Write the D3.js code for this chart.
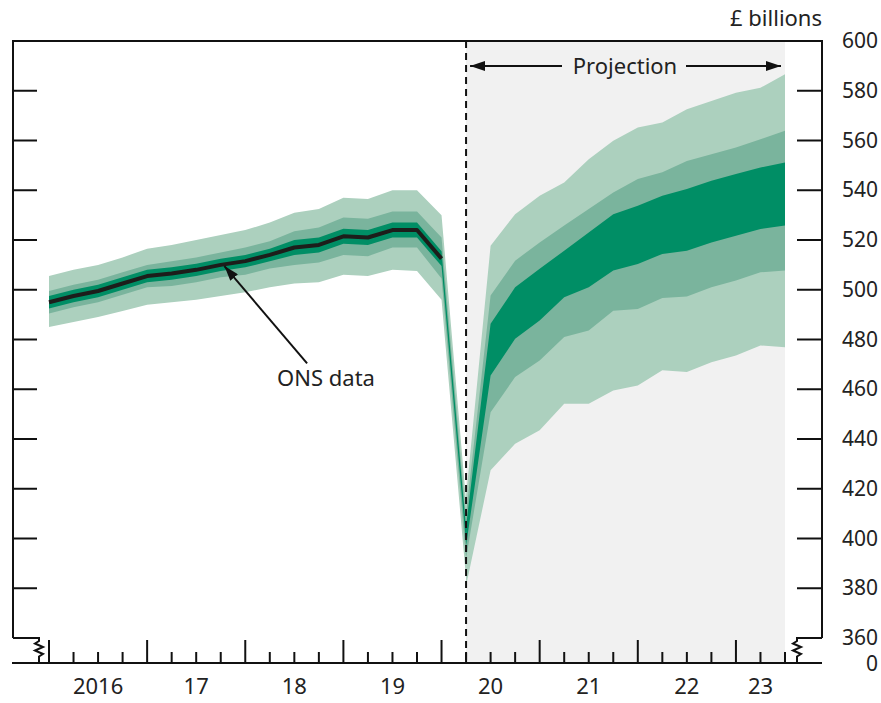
<!DOCTYPE html>
<html>
<head>
<meta charset="utf-8">
<title>GDP projection</title>
<style>
  body { margin: 0; background: #fff; font-family: "Noto Sans", sans-serif; }
  text { fill: #222; font-size: 22px; }
  .ylab { font-size: 21px; }
</style>
</head>
<body>
<div id="chart"></div>
<script src="https://d3js.org/d3.v7.min.js"></script>
<script>
// ---- data (£ billions) ----
// backcast fan, 2016 Q1 .. 2020 Q2
var histQuarters = ["2016 Q1","2016 Q2","2016 Q3","2016 Q4","2017 Q1","2017 Q2","2017 Q3","2017 Q4",
  "2018 Q1","2018 Q2","2018 Q3","2018 Q4","2019 Q1","2019 Q2","2019 Q3","2019 Q4","2020 Q1","2020 Q2"];
var histLightUpper = [505.5,508,510,513,516.5,518,520,522,524,527,531,532.5,537,536.5,540,540,530,415];
var histMidUpper   = [499.5,502,504,507,510,511.5,513,515,517,519.5,523.5,525,529,528.5,531.5,531.5,521,408];
var histDarkUpper  = [497.5,500,502,505,508,509,510.5,512.5,514,516.5,520,521,524.5,524,527,527,515.5,404];
var histDarkLower  = [492.5,495,497,500,503,504,505.5,507.5,509,511.5,514,515,518.5,518,521,521,509.5,398];
var histMidLower   = [490.5,493,495,498,501,501.5,503,505,506,508.5,510,511,514,513.5,517,517,504.5,392];
var histLightLower = [485,487,489,491.5,494,495,496,497.5,499,501,502.5,503,506,505.5,508,507.5,496,384];

// ONS data line, 2016 Q1 .. 2020 Q1
var onsData = [495,497.5,499.5,502.5,505.5,506.5,508,510,511.5,514,517,518,521.5,521,524,524,512.5];

// projection fan, 2020 Q2 .. 2023 Q3
var projQuarters = ["2020 Q2","2020 Q3","2020 Q4","2021 Q1","2021 Q2","2021 Q3","2021 Q4",
  "2022 Q1","2022 Q2","2022 Q3","2022 Q4","2023 Q1","2023 Q2","2023 Q3"];
var projLightUpper = [417,517.7,530.4,537.8,543.1,552.5,559.9,565.2,567.2,572.6,575.9,579.2,581.2,586.6];
var projMidUpper   = [410,497.7,511.7,519,525.8,532.5,539.1,544.5,547.2,551.8,554.5,557.2,560.5,563.9];
var projDarkUpper  = [405,486.3,501,508.4,515.7,523,530.4,533.8,537.8,540.5,543.8,546.5,549.1,551.2];
var projDarkLower  = [397,465.5,480.3,487.6,497,501,507.7,510.4,514.4,515.7,519,521.7,524.4,525.8];
var projMidLower   = [392,450.8,464.9,471.6,481,483.6,491.6,492.3,496.7,497.3,501,503.7,507,507.7];
var projLightLower = [381,427.4,438.1,443.5,454.2,454.2,459.5,461.5,467.6,466.9,470.9,473.6,477.6,476.9];

var yearLabels = ["2016","17","18","19","20","21","22","23"];
var yTicks = [380,400,420,440,460,480,500,520,540,560,580];
var yLabels = [360,380,400,420,440,460,480,500,520,540,560,580,600];

var colors = { light: "#acd0be", mid: "#7ab49d", dark: "#008e65", shade: "#f1f1f1" };

// ---- layout ----
var W = 881, H = 703;
var plotL = 13, plotR = 822, plotT = 41, plotB = 663, breakY = 638;

var svg = d3.select("#chart").append("svg")
  .attr("width", W).attr("height", H);

function qIndex(s) {
  return (+s.slice(0, 4) - 2016) * 4 + (+s.slice(-1) - 1);
}
var lastQ = qIndex(projQuarters[projQuarters.length - 1]);

var x = d3.scaleLinear().domain([0, lastQ]).range([49, 785]);
var y = d3.scaleLinear().domain([360, 600]).range([breakY, plotT]);

// projection shading
var projStart = x(qIndex(projQuarters[0]));
svg.append("rect")
  .attr("x", projStart).attr("y", plotT)
  .attr("width", x(lastQ) - projStart).attr("height", plotB - plotT)
  .attr("fill", colors.shade);

function fan(quarters, bands) {
  var g = svg.append("g");
  bands.forEach(function (b) {
    var area = d3.area()
      .x(function (d, i) { return x(qIndex(quarters[i])); })
      .y0(function (d, i) { return y(b.lower[i]); })
      .y1(function (d, i) { return y(b.upper[i]); });
    g.append("path")
      .attr("d", area(quarters))
      .attr("fill", b.color);
  });
}

fan(histQuarters, [
  { upper: histLightUpper, lower: histLightLower, color: colors.light },
  { upper: histMidUpper, lower: histMidLower, color: colors.mid },
  { upper: histDarkUpper, lower: histDarkLower, color: colors.dark }
]);
fan(projQuarters, [
  { upper: projLightUpper, lower: projLightLower, color: colors.light },
  { upper: projMidUpper, lower: projMidLower, color: colors.mid },
  { upper: projDarkUpper, lower: projDarkLower, color: colors.dark }
]);

// ONS line
var line = d3.line()
  .x(function (d, i) { return x(qIndex(histQuarters[i])); })
  .y(function (d) { return y(d); });
svg.append("path")
  .attr("d", line(onsData))
  .attr("fill", "none")
  .attr("stroke", "#1d1d1b")
  .attr("stroke-width", 4)
  .attr("stroke-linejoin", "round");

// dashed divider
svg.append("line")
  .attr("x1", projStart).attr("x2", projStart)
  .attr("y1", plotT).attr("y2", plotB)
  .attr("stroke", "#111").attr("stroke-width", 2)
  .attr("stroke-dasharray", "7,5");

// arrow marker
var defs = svg.append("defs");
defs.append("marker")
  .attr("id", "head")
  .attr("viewBox", "0 0 15 10")
  .attr("refX", 15).attr("refY", 5)
  .attr("markerWidth", 15).attr("markerHeight", 10)
  .attr("markerUnits", "userSpaceOnUse")
  .attr("orient", "auto")
  .append("path").attr("d", "M0,0L15,5L0,10Z").attr("fill", "#111");

// frame
var axis = svg.append("g")
  .attr("fill", "none").attr("stroke", "#111").attr("stroke-width", 2);
axis.append("path")
  .attr("d", "M" + plotL + "," + breakY + "V" + plotT + "H" + plotR + "V" + breakY);
axis.append("path")
  .attr("d", "M" + (plotL - 1) + "," + plotB + "H" + plotR);
// axis breaks
function zig() {
  return "V" + (breakY + 3) + "l-4,2.5l8,3.5l-8,3.5l8,3.5l-4,2.5V" + plotB;
}
axis.append("path").attr("d", "M" + plotL + "," + breakY + "H39" + zig());
axis.append("path").attr("d", "M" + plotR + "," + breakY + "H797" + zig());

// y ticks, both sides pointing in
yTicks.forEach(function (v) {
  axis.append("line").attr("x1", plotL).attr("x2", plotL + 24)
    .attr("y1", y(v)).attr("y2", y(v));
  axis.append("line").attr("x1", plotR).attr("x2", plotR - 25)
    .attr("y1", y(v)).attr("y2", y(v));
});

// x ticks, quarterly, longer at the start of each year
d3.range(0, lastQ + 1).forEach(function (q) {
  axis.append("line")
    .attr("x1", x(q)).attr("x2", x(q))
    .attr("y1", plotB).attr("y2", q % 4 === 0 ? plotB - 23 : plotB - 11);
});

// y labels
svg.append("g").selectAll("text")
  .data(yLabels)
  .enter().append("text")
  .attr("class", "ylab")
  .attr("x", 878).attr("y", function (d) { return y(d); })
  .attr("dy", "0.34em")
  .attr("text-anchor", "end")
  .text(function (d) { return d; });
svg.append("text")
  .attr("class", "ylab")
  .attr("x", 878).attr("y", plotB + 1).attr("dy", "0.34em")
  .attr("text-anchor", "end").text("0");

svg.append("text")
  .attr("x", plotR).attr("y", 26)
  .attr("text-anchor", "end").text("£ billions");

// year labels centred on the visible ticks of each year
yearLabels.forEach(function (lab, k) {
  var q0 = k * 4, q1 = Math.min(k * 4 + 4, lastQ);
  svg.append("text")
    .attr("x", x((q0 + q1) / 2)).attr("y", 694)
    .attr("text-anchor", "middle").text(lab);
});

// Projection label with arrows
var pMid = 625, pY = 66;
svg.append("text")
  .attr("x", pMid).attr("y", pY).attr("dy", "0.36em")
  .attr("text-anchor", "middle").text("Projection");
svg.append("line")
  .attr("x1", pMid - 63).attr("x2", projStart + 4)
  .attr("y1", pY).attr("y2", pY)
  .attr("stroke", "#111").attr("stroke-width", 2)
  .attr("marker-end", "url(#head)");
svg.append("line")
  .attr("x1", pMid + 61).attr("x2", x(lastQ) - 4)
  .attr("y1", pY).attr("y2", pY)
  .attr("stroke", "#111").attr("stroke-width", 2)
  .attr("marker-end", "url(#head)");

// ONS data annotation
svg.append("line")
  .attr("x1", x(10.52)).attr("y1", y(470.4))
  .attr("x2", x(7.15)).attr("y2", y(509.5))
  .attr("stroke", "#111").attr("stroke-width", 2)
  .attr("marker-end", "url(#head)");
svg.append("text")
  .attr("x", 326).attr("y", 386)
  .attr("text-anchor", "middle").text("ONS data");
</script>
</body>
</html>
